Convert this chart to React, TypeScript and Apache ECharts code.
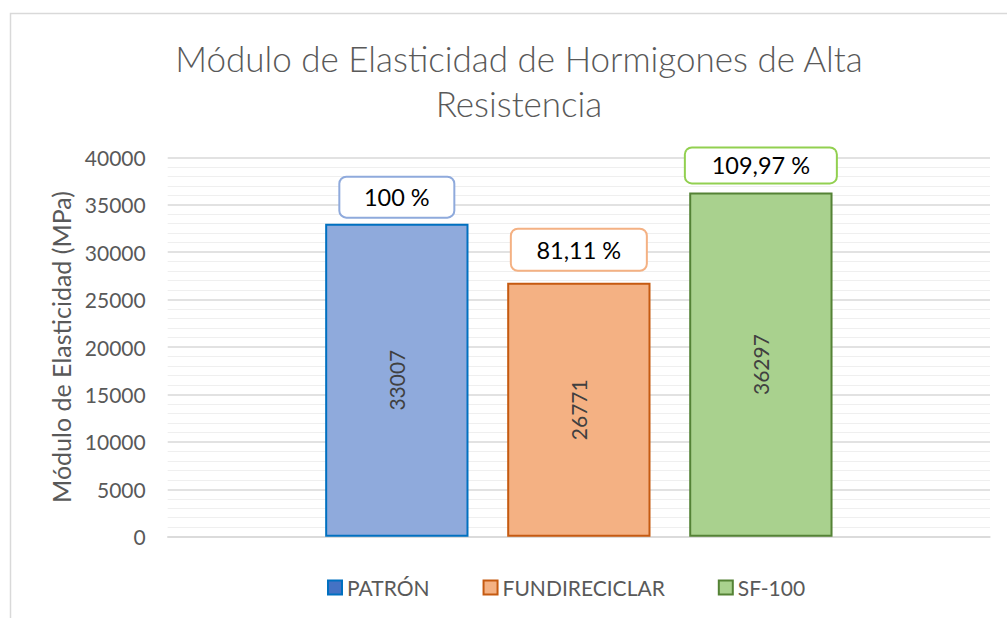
import React, { useEffect, useRef } from "react";
import * as echarts from "echarts";

const seriesNames = ["PATRÓN", "FUNDIRECICLAR", "SF-100"];
const modulusValues = [33007, 26771, 36297];
const percentValues = [100, 81.11, 109.97];
const yTicks = { min: 0, max: 40000, interval: 5000 };

const barFill = ["#8FAADC", "#F4B183", "#A9D18E"];
const barBorder = ["#0070C0", "#C55A11", "#548235"];
const legendFill = ["#4472C4", "#F4B183", "#A9D18E"];
const boxBorder = ["#8FAADC", "#F4B183", "#92D050"];
const boxW = [113, 134, 150];
const boxH = [39, 40, 34];
const boxDist = [7, 13, 10];

const FONT = "Lato, 'Open Sans', sans-serif";

export default function App() {
  const ref = useRef<HTMLDivElement>(null);
  useEffect(() => {
    if (!ref.current) return;
    const chart = echarts.init(ref.current, undefined, { renderer: "svg" });
    const fmtPct = (v: number) => String(v).replace(".", ",") + " %";
    const mainSeries = seriesNames.map((name, i) => ({
      name,
      type: "bar",
      xAxisIndex: 0,
      barCategoryGap: "38.3%",
      barGap: "27%",
      data: [modulusValues[i]],
      itemStyle: { color: barFill[i], borderColor: barBorder[i], borderWidth: 2 },
      label: {
        show: true,
        position: "top",
        distance: boxDist[i],
        formatter: () => fmtPct(percentValues[i]),
        fontFamily: FONT,
        fontSize: 23.5,
        color: "#000000",
        backgroundColor: "#ffffff",
        borderColor: boxBorder[i],
        borderWidth: 2,
        borderRadius: 6,
        width: boxW[i],
        height: boxH[i],
        lineHeight: boxH[i],
        align: "center",
        padding: 0,
      },
    }));
    const valueSeries = seriesNames.map((name, i) => ({
      name: name + " valor",
      type: "bar",
      xAxisIndex: 1,
      barCategoryGap: "38.3%",
      barGap: "27%",
      silent: true,
      data: [modulusValues[i]],
      itemStyle: { color: "rgba(0,0,0,0)" },
      label: {
        show: true,
        position: "inside",
        rotate: 90,
        fontFamily: FONT,
        fontSize: 21,
        color: "#404040",
      },
    }));
    chart.setOption({
      animation: false,
      title: {
        text: "Módulo de Elasticidad de Hormigones de Alta\nResistencia",
        left: 514,
        top: 30,
        textAlign: "center",
        textStyle: {
          fontFamily: FONT,
          fontWeight: 300,
          fontSize: 35,
          lineHeight: 45,
          color: "#595959",
        },
      },
      graphic: [
        {
          type: "rect",
          shape: { x: 10.5, y: 13.5, width: 1200, height: 800 },
          style: { fill: "none", stroke: "#D9D9D9", lineWidth: 1.5 },
          silent: true,
        },
      ],
      legend: {
        left: 322,
        top: 572,
        itemWidth: 14,
        itemHeight: 14,
        itemGap: 53,
        icon: "rect",
        textStyle: { fontFamily: FONT, fontSize: 21, color: "#595959" },
        data: seriesNames.map((name, i) => ({
          name,
          itemStyle: { color: legendFill[i], borderColor: barBorder[i], borderWidth: 2 },
        })),
      },
      grid: { left: 167.7, right: 17, top: 157.3, bottom: 81.3, containLabel: false },
      xAxis: [
        {
          type: "category",
          data: [""],
          axisLine: { show: true, lineStyle: { color: "#D9D9D9", width: 1.5 } },
          axisTick: { show: false },
          axisLabel: { show: false },
        },
        {
          type: "category",
          data: [""],
          show: false,
        },
      ],
      yAxis: {
        type: "value",
        min: yTicks.min,
        max: yTicks.max,
        interval: yTicks.interval,
        name: "Módulo de Elasticidad (MPa)",
        nameLocation: "middle",
        nameGap: 93,
        nameTextStyle: { fontFamily: FONT, fontSize: 25, color: "#595959" },
        axisLine: { show: false },
        axisTick: { show: false },
        axisLabel: {
          fontFamily: FONT,
          fontSize: 21,
          color: "#595959",
          margin: 22,
          formatter: (v: number) => String(v),
        },
        splitLine: { lineStyle: { color: "#D9D9D9", width: 1.5 } },
        minorTick: { show: false, splitNumber: 5 },
        minorSplitLine: { show: true, lineStyle: { color: "#EFEFEF", width: 1 } },
      },
      series: [...mainSeries, ...valueSeries],
    });
    return () => chart.dispose();
  }, []);
  return (
    <div
      ref={ref}
      style={{ position: "fixed", left: 0, top: 0, width: 1007, height: 618, background: "#fff" }}
    />
  );
}
